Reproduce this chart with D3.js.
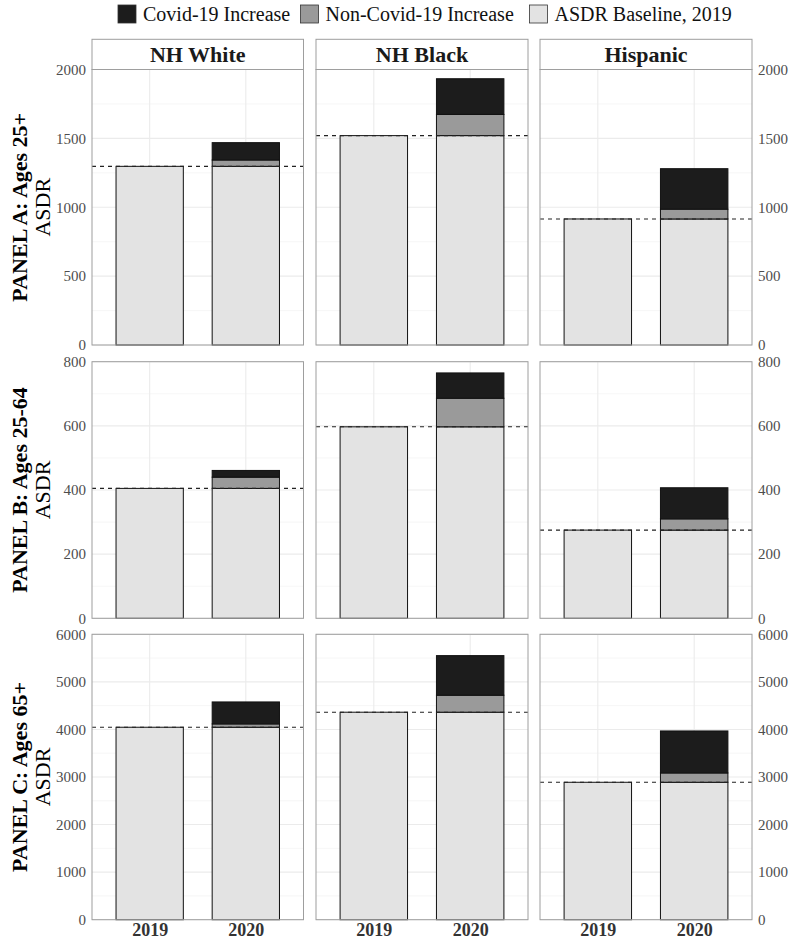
<!DOCTYPE html>
<html><head><meta charset="utf-8">
<script src="https://cdn.jsdelivr.net/npm/d3@7"></script>
<style>body{margin:0;background:#fff}svg{display:block}svg text{font-family:'Liberation Serif','Times New Roman',serif}</style></head>
<body><svg id="c" width="789" height="940"></svg>
<script>
// ---- data ----
const groups = ["NH White", "NH Black", "Hispanic"];
const years = ["2019", "2020"];
const panelLabels = ["PANEL A: Ages 25+", "PANEL B: Ages 25-64", "PANEL C: Ages 65+"];
const yTitle = "ASDR";
const legendLabels = ["Covid-19 Increase", "Non-Covid-19 Increase", "ASDR Baseline, 2019"];

const baselineA = [1297, 1520, 915];
const nonCovidA = [46, 154, 71];
const covidA    = [126, 259, 294];

const baselineB = [405, 597, 275];
const nonCovidB = [35, 89, 35];
const covidB    = [21, 79, 97];

const baselineC = [4046, 4362, 2889];
const nonCovidC = [70, 357, 196];
const covidC    = [462, 833, 883];

const yMax  = [2000, 800, 6000];
const yStep = [500, 200, 1000];

const baselines = [baselineA, baselineB, baselineC];
const nonCovids = [nonCovidA, nonCovidB, nonCovidC];
const covids    = [covidA, covidB, covidC];

// ---- layout ----
const colX = [[92, 303.5], [316, 528], [540, 752]];
const rowY = [[69.5, 345], [361.7, 618.3], [634.3, 919.7]];
const stripTop = 39.3;
const fillCovid = "#1c1c1c", fillNon = "#9a9a9a", fillBase = "#e3e3e3";
const FONT = "Liberation Serif, Times New Roman, serif";

const svg = d3.select("#c");
const T = sel => sel.attr("font-family", FONT);

// legend
const legX = [118, 300.5, 529.5];
const legendFills = [fillCovid, fillNon, fillBase];
legendLabels.forEach((lab, i) => {
  svg.append("rect").attr("x", legX[i]).attr("y", 5).attr("width", 18).attr("height", 18)
    .attr("fill", legendFills[i]).attr("stroke", "#333").attr("stroke-width", 0.8);
  svg.append("text").call(T).attr("x", legX[i] + 25).attr("y", 21).attr("font-size", 20)
    .attr("fill", "#111").text(lab);
});

// strips
groups.forEach((g, c) => {
  const [x0, x1] = colX[c];
  svg.append("rect").attr("x", x0).attr("y", stripTop).attr("width", x1 - x0).attr("height", rowY[0][0] - stripTop)
    .attr("fill", "#fff").attr("stroke", "#9e9e9e").attr("stroke-width", 1);
  svg.append("line").attr("x1", x0).attr("x2", x1).attr("y1", rowY[0][0]).attr("y2", rowY[0][0])
    .attr("stroke", "#111").attr("stroke-width", 1.2);
  svg.append("text").call(T).attr("x", (x0 + x1) / 2).attr("y", (stripTop + rowY[0][0]) / 2 + 7.5)
    .attr("text-anchor", "middle").attr("font-size", 22).attr("font-weight", "bold").attr("fill", "#1a1a1a").text(g);
});

panelLabels.forEach((pl, r) => {
  const [y0, y1] = rowY[r];
  const y = d3.scaleLinear().domain([0, yMax[r]]).range([y1, y0]);
  const majors = d3.range(0, yMax[r] + 1e-9, yStep[r]);
  const minors = d3.range(yStep[r] / 2, yMax[r], yStep[r]);
  const cy = (y0 + y1) / 2;

  // row titles
  svg.append("text").call(T).attr("transform", `translate(27,${cy}) rotate(-90)`).attr("text-anchor", "middle")
    .attr("font-size", 22).attr("font-weight", "bold").attr("fill", "#000").text(pl);
  svg.append("text").call(T).attr("transform", `translate(50,${cy}) rotate(-90)`).attr("text-anchor", "middle")
    .attr("font-size", 22).attr("fill", "#000").text(yTitle);

  groups.forEach((g, c) => {
    const [x0, x1] = colX[c];
    const x = d3.scalePoint().domain(years).range([x0, x1]).padding(0.6);
    const bw = x.step() * 0.7;
    const p = svg.append("g");
    p.append("rect").attr("x", x0).attr("y", y0).attr("width", x1 - x0).attr("height", y1 - y0).attr("fill", "#fff");
    p.selectAll(".mn").data(minors).enter().append("line")
      .attr("x1", x0).attr("x2", x1).attr("y1", d => y(d)).attr("y2", d => y(d))
      .attr("stroke", "#f0f0f0").attr("stroke-width", 0.6);
    p.selectAll(".mj").data(majors).enter().append("line")
      .attr("x1", x0).attr("x2", x1).attr("y1", d => y(d)).attr("y2", d => y(d))
      .attr("stroke", "#ebebeb").attr("stroke-width", 1.1);
    p.selectAll(".mx").data(years).enter().append("line")
      .attr("x1", d => x(d)).attr("x2", d => x(d)).attr("y1", y0).attr("y2", y1)
      .attr("stroke", "#ebebeb").attr("stroke-width", 1.1);

    const base = baselines[r][c], nc = nonCovids[r][c], cv = covids[r][c];
    const segs = [
      {yr: "2019", lo: 0, hi: base, f: fillBase},
      {yr: "2020", lo: 0, hi: base, f: fillBase},
      {yr: "2020", lo: base, hi: base + nc, f: fillNon},
      {yr: "2020", lo: base + nc, hi: base + nc + cv, f: fillCovid}
    ];
    p.selectAll(".bar").data(segs).enter().append("rect")
      .attr("x", d => x(d.yr) - bw / 2).attr("width", bw)
      .attr("y", d => y(d.hi)).attr("height", d => y(d.lo) - y(d.hi))
      .attr("fill", d => d.f).attr("stroke", "#111").attr("stroke-width", 1);

    p.append("line").attr("x1", x0).attr("x2", x1).attr("y1", y(base)).attr("y2", y(base))
      .attr("stroke", "#222").attr("stroke-width", 1.1).attr("stroke-dasharray", "4,4");

    p.append("rect").attr("x", x0).attr("y", y0).attr("width", x1 - x0).attr("height", y1 - y0)
      .attr("fill", "none").attr("stroke", "#9e9e9e").attr("stroke-width", 1);

    if (c === 0 || c === 2) {
      const ax = (c === 0 ? d3.axisLeft(y) : d3.axisRight(y)).tickValues(majors).tickSize(0).tickPadding(6)
        .tickFormat(d3.format("d"));
      const ag = svg.append("g").attr("transform", `translate(${c === 0 ? x0 : x1},0)`).call(ax)
        .attr("font-family", FONT).attr("font-size", 15);
      ag.select(".domain").remove();
      ag.selectAll("text").attr("fill", "#4d4d4d");
    }
    if (r === 2) {
      const ax = d3.axisBottom(x).tickSize(0).tickPadding(4);
      const ag = svg.append("g").attr("transform", `translate(0,${y1})`).call(ax)
        .attr("font-family", FONT).attr("font-size", 18).attr("font-weight", "bold");
      ag.select(".domain").remove();
      ag.selectAll("text").attr("fill", "#333");
    }
  });
});
</script>
</body></html>
